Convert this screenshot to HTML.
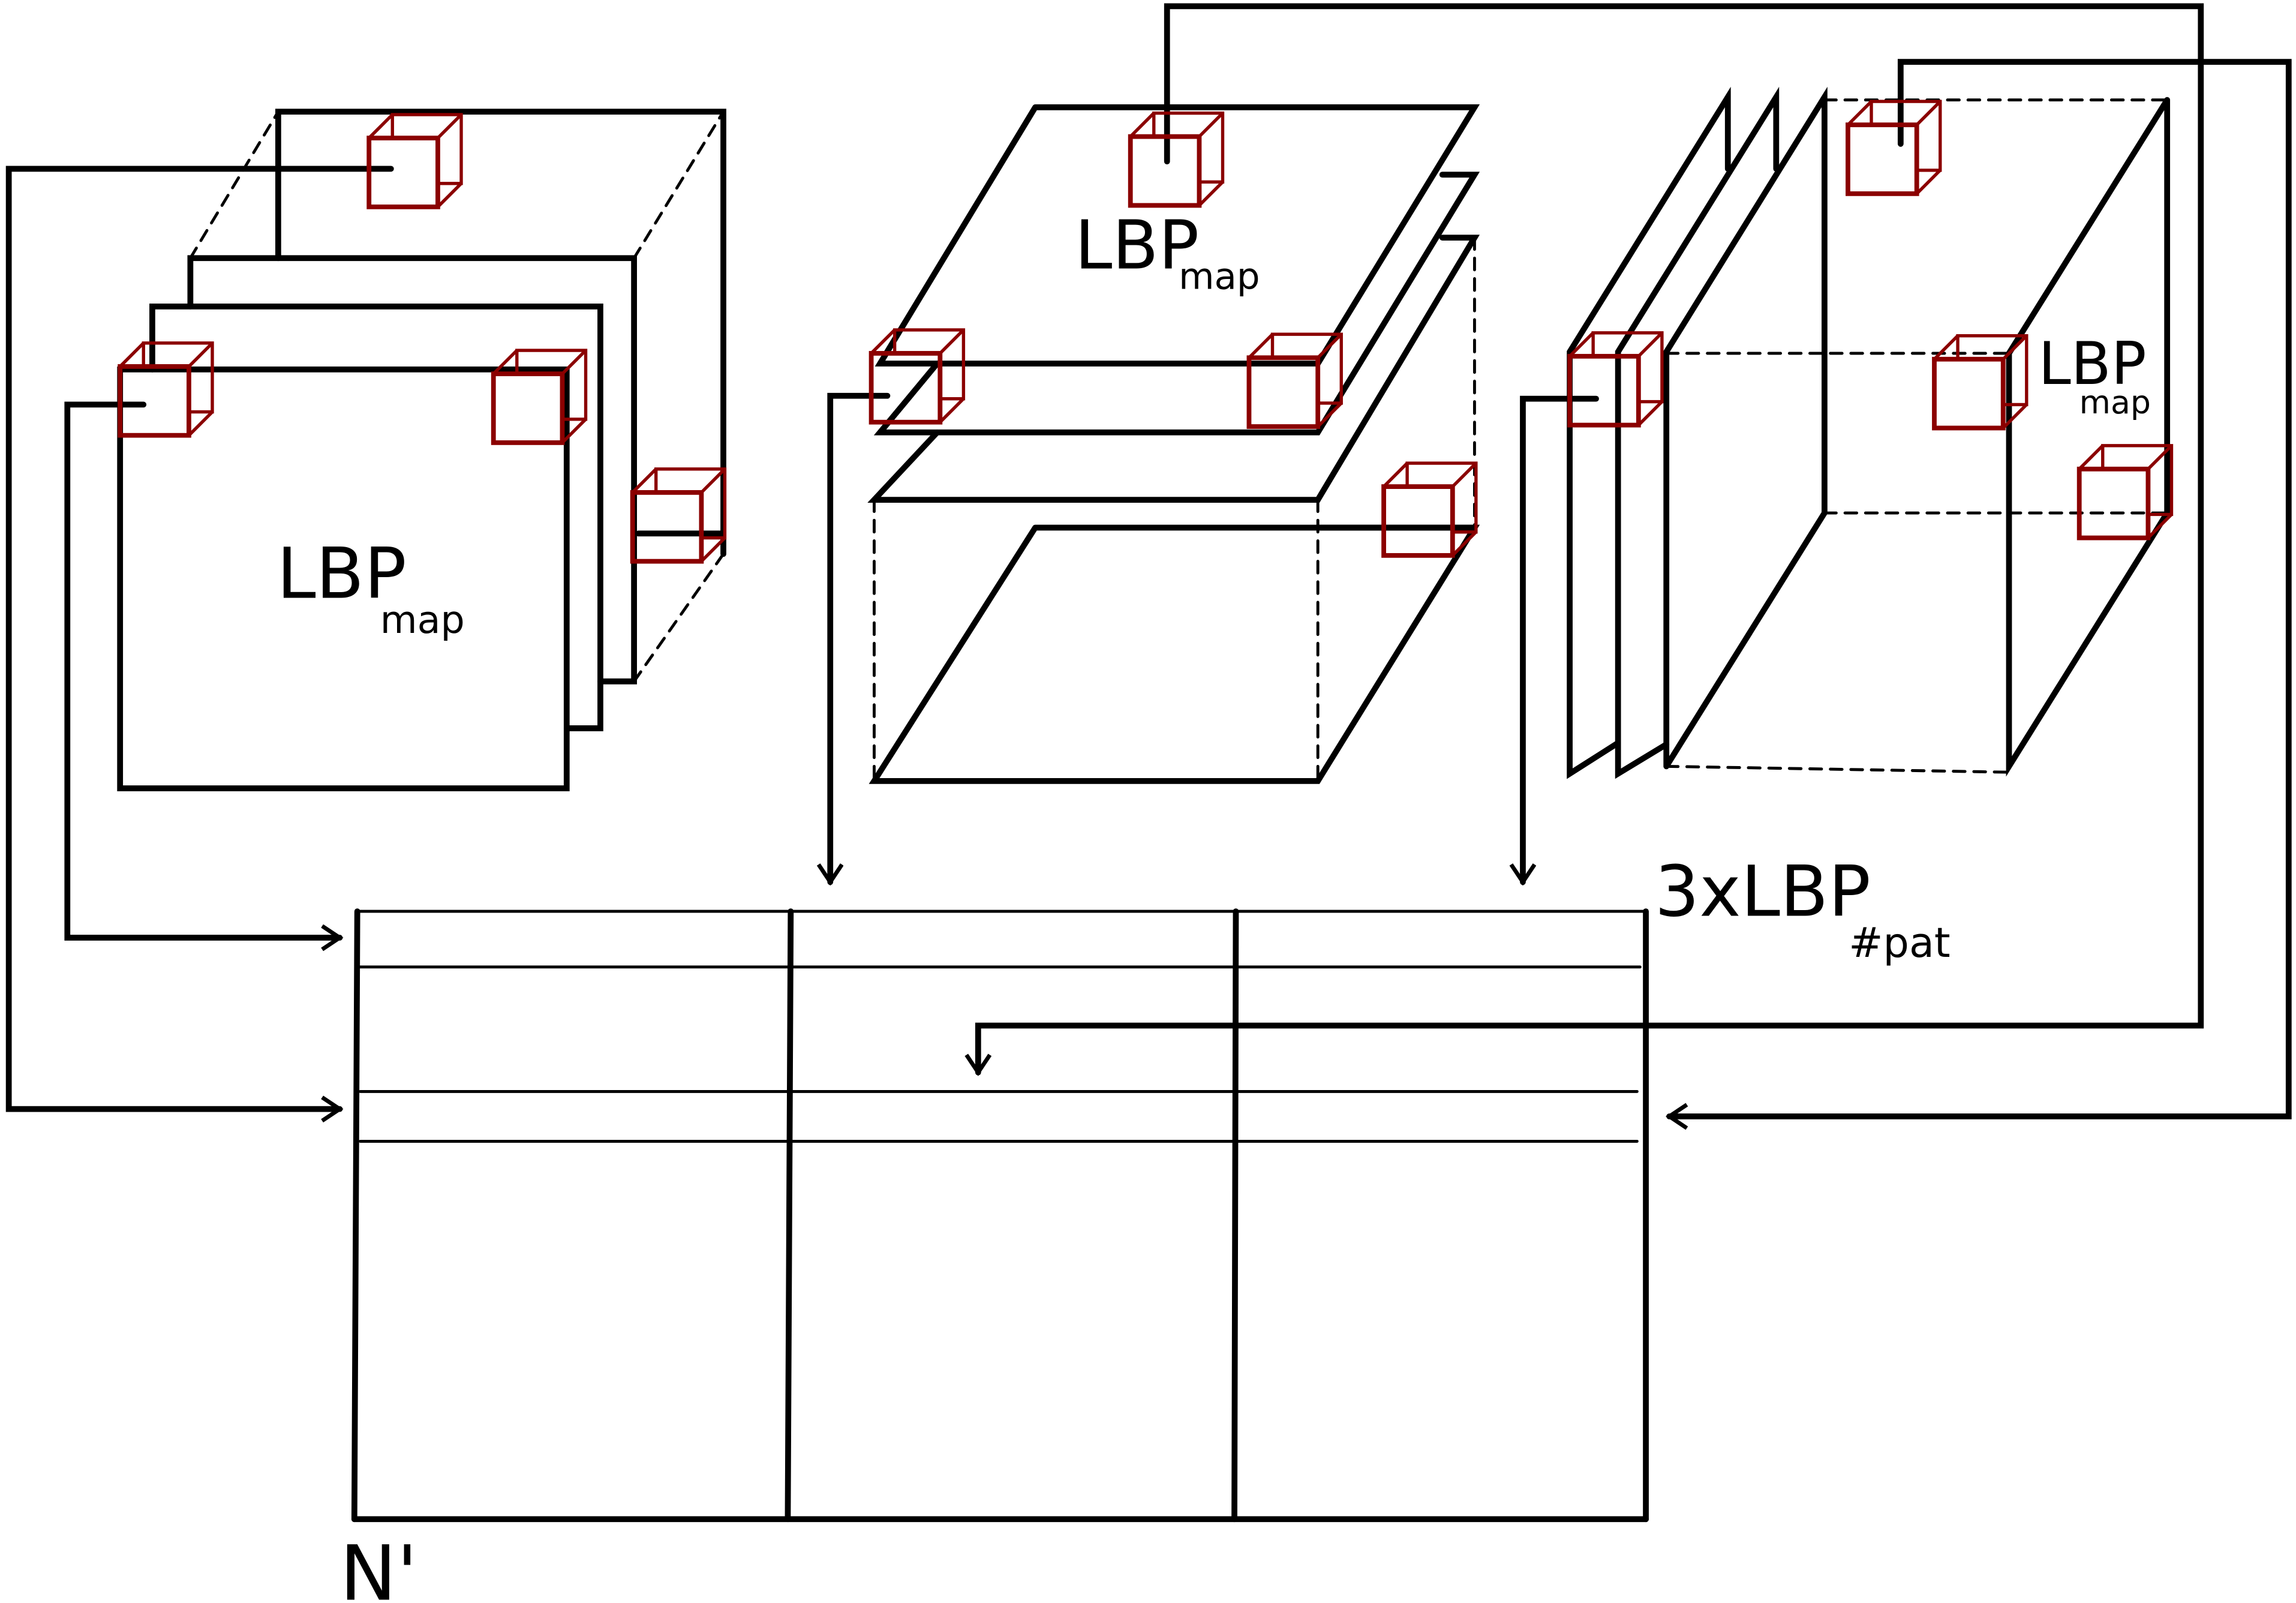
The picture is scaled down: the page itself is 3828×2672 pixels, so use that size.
<!DOCTYPE html>
<html><head><meta charset="utf-8"><style>
html,body{margin:0;padding:0;background:#fff;}
svg{display:block;}
text{font-family:"DejaVu Sans","Liberation Sans",sans-serif;fill:#000;}
</style></head><body>
<svg width="3828" height="2672" viewBox="0 0 1568 1094" xmlns="http://www.w3.org/2000/svg">
<defs>
<g id="cube" fill="none" stroke="#8b0000" stroke-width="2.2">
<path d="M16,0 V-16 H63 V31 H47"/>
<rect x="0" y="0" width="47" height="47" stroke-width="3.2"/>
<line x1="0" y1="0" x2="16" y2="-16"/><line x1="47" y1="0" x2="63" y2="-16"/>
<line x1="47" y1="47" x2="63" y2="31"/>
</g>
<marker id="ah" markerWidth="20" markerHeight="20" refX="14" refY="9" orient="auto" markerUnits="userSpaceOnUse">
<path d="M2,1 L14,9 L2,17" fill="none" stroke="#000" stroke-width="2.8"/></marker>
</defs>
<g fill="none" stroke="#000" stroke-width="4" stroke-linecap="round">
<!-- left stack -->
<path d="M190,176 V76 H494 V378"/>
<path d="M130,209 V176 H433 V465 H410"/>
<path d="M104,252 V209 H410 V497 H387"/>
<rect x="82" y="252" width="305" height="286"/>
<g stroke-width="2" stroke-dasharray="8,6"><line x1="130" y1="176" x2="190" y2="76"/><line x1="433" y1="176" x2="494" y2="76"/><line x1="433" y1="465" x2="494" y2="378"/></g>
<!-- middle -->
<path d="M707,73 H1007 L900,248 H601 L707,73"/>
<path d="M985,119 H1007 L900,295 H601 L640,248"/>
<path d="M985,162 H1007 L900,341 H597 L640,295"/>
<path d="M707,360 H1007 L900,533 H597 L707,360"/>
<g stroke-width="2" stroke-dasharray="8,6"><line x1="597" y1="341" x2="597" y2="533"/><line x1="900" y1="341" x2="900" y2="533"/><line x1="1007" y1="162" x2="1007" y2="360"/></g>
<!-- right -->
<path d="M1105,507 L1072,528 V240 L1180,66 V115"/>
<path d="M1138,508 L1105,528 V240 L1213,66 V115"/>
<path d="M1138,523 V240 L1246,66 V350 L1138,523"/>
<path d="M1480,68 V350 L1372,523 V241 L1480,68"/>
<g stroke-width="2" stroke-dasharray="8,6"><line x1="1246" y1="68" x2="1480" y2="68"/><line x1="1138" y1="241" x2="1372" y2="241"/><line x1="1246" y1="350" x2="1480" y2="350"/><line x1="1138" y1="523" x2="1372" y2="527"/></g>
<!-- table -->
<g stroke-width="2"><line x1="244" y1="622" x2="1124" y2="622"/><line x1="246" y1="660" x2="1120" y2="660"/><line x1="246" y1="745" x2="1118" y2="745"/><line x1="246" y1="779" x2="1118" y2="779"/></g>
<line x1="244" y1="622" x2="242" y2="1037"/><line x1="242" y1="1037" x2="1124" y2="1037"/><line x1="1124" y1="622" x2="1124" y2="1037"/>
<line x1="540" y1="622" x2="538" y2="1037"/><line x1="844" y1="622" x2="843" y2="1037"/>
<!-- connectors -->
<path d="M98,276 H46 V640 H232" marker-end="url(#ah)"/>
<path d="M267,115 H6 V757 H232" marker-end="url(#ah)"/>
<path d="M436,364 H494"/>
<path d="M797,110 V4 H1503 V700 H668 V732" marker-end="url(#ah)"/>
<path d="M606,270 H567 V602" marker-end="url(#ah)"/>
<path d="M1298,98 V42 H1563 V762 H1140" marker-end="url(#ah)"/>
<path d="M1090,272 H1040 V602" marker-end="url(#ah)"/>
<path d="M900,360 H1007"/>
</g>
<use href="#cube" x="82" y="250"/>
<use href="#cube" x="337" y="255"/>
<use href="#cube" x="252" y="94"/>
<use href="#cube" x="432" y="336"/>
<use href="#cube" x="772" y="93"/>
<use href="#cube" x="595" y="241"/>
<use href="#cube" x="853" y="244"/>
<use href="#cube" x="945" y="332"/>
<use href="#cube" x="1262" y="85"/>
<use href="#cube" x="1321" y="245"/>
<use href="#cube" x="1420" y="320"/>
<use href="#cube" x="1072" y="243"/>
<text x="189" y="408" font-size="48">LBP<tspan font-size="26" dx="-18" dy="24">map</tspan></text>
<text x="734" y="183" font-size="46">LBP<tspan font-size="25" dx="-14" dy="14">map</tspan></text>
<text x="1392" y="262" font-size="40">LBP</text>
<text x="1420" y="282" font-size="22">map</text>
<text x="1130" y="625" font-size="48">3xLBP<tspan font-size="28" dx="-15" dy="28">#pat</tspan></text>
<text x="232" y="1092" font-size="52">N'</text>
</svg>
</body></html>
